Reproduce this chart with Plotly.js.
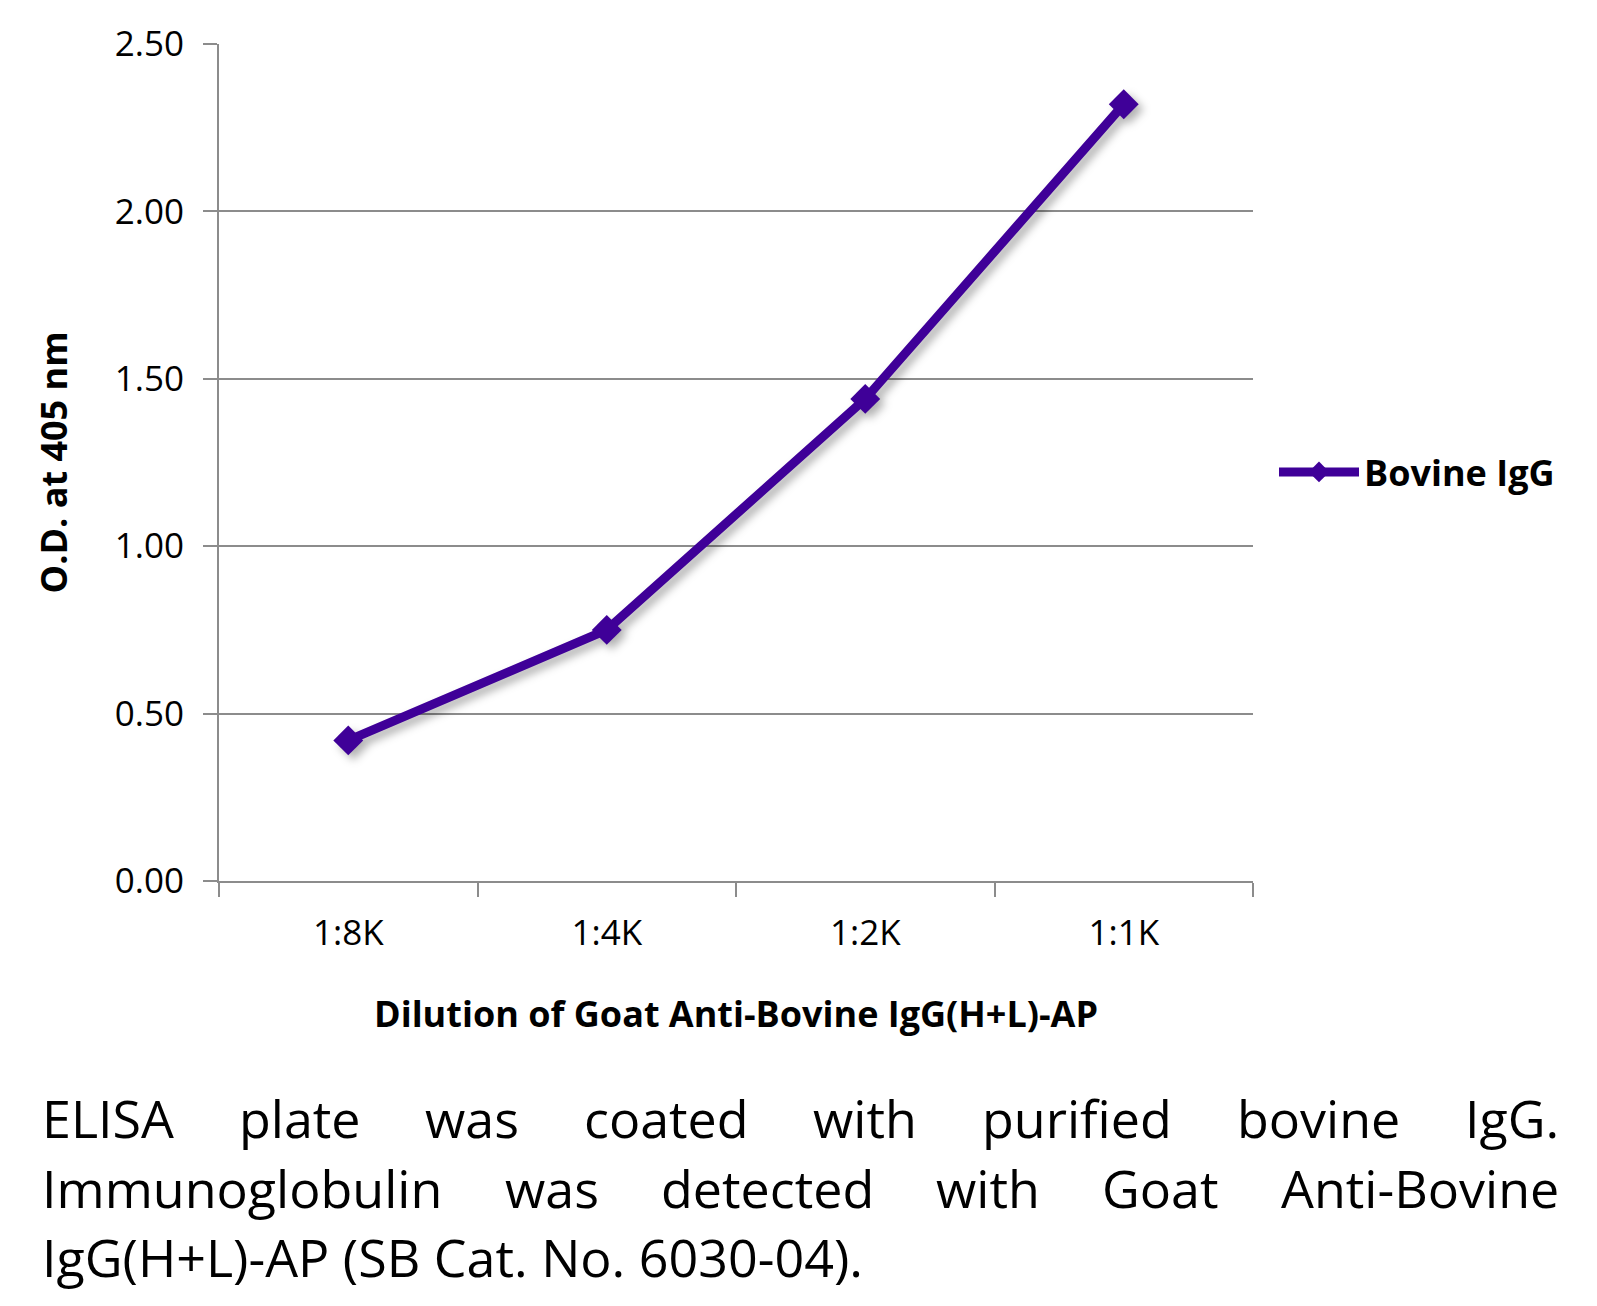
<!DOCTYPE html>
<html>
<head>
<meta charset="utf-8">
<script src="https://cdn.plot.ly/plotly-3.0.1.min.js"></script>
<style>
html,body{margin:0;padding:0;background:#fff;}
#chart{width:1597px;height:1306px;}
.scatterlayer .trace{filter:drop-shadow(5px 5px 4px rgba(0,0,0,0.3));}
</style>
</head>
<body>
<div id="chart"></div>
<script>
// ---- data ----
const dilutions = ['1:8K', '1:4K', '1:2K', '1:1K'];
const bovineIgG = [0.42, 0.75, 1.44, 2.32];
const seriesName = 'Bovine IgG';
const yTickVals = [0, 0.5, 1, 1.5, 2, 2.5];
const yTickText = ['0.00', '0.50', '1.00', '1.50', '2.00', '2.50'];
const xTitle = 'Dilution of Goat Anti-Bovine IgG(H+L)-AP';
const yTitle = 'O.D. at 405 nm';
const captionLines = [
  ['ELISA', 'plate', 'was', 'coated', 'with', 'purified', 'bovine', 'IgG.'],
  ['Immunoglobulin', 'was', 'detected', 'with', 'Goat', 'Anti-Bovine'],
  ['IgG(H+L)-AP (SB Cat. No. 6030-04).']
];
const justifyLine = [true, true, false];

// ---- layout geometry ----
const W = 1597, H = 1306;
const mL = 219, mR = W - 1253, mT = 44, mB = H - 881;
const plotW = W - mL - mR, plotH = H - mT - mB;
const px2x = p => (p - mL) / plotW;
const py2y = p => (H - mB - p) / plotH;

const FONT = '"Open Sans", "Noto Sans", sans-serif';
const purple = '#3f0098';
const gray = '#8c8c8c';

// caption as justified words
const capLeft = 41, capRight = 1558;
const capY = [1117, 1187, 1256];
const canvas = document.createElement('canvas');
const ctx = canvas.getContext('2d');
const capSize = 52;
ctx.font = capSize + 'px "Open Sans"';
const annotations = [];
captionLines.forEach((words, li) => {
  const widths = words.map(w => ctx.measureText(w).width);
  const total = widths.reduce((a, b) => a + b, 0);
  const gap = (justifyLine[li] && words.length > 1) ? (capRight - capLeft - total) / (words.length - 1) : ctx.measureText(' ').width;
  let x = capLeft;
  words.forEach((w, i) => {
    annotations.push({
      text: w, xref: 'paper', yref: 'paper',
      x: px2x(x), y: py2y(capY[li]), xanchor: 'left', yanchor: 'middle',
      showarrow: false, borderpad: 0,
      font: {family: FONT, size: capSize, color: '#000'}
    });
    x += widths[i] + gap;
  });
});

const trace = {
  x: dilutions, y: bovineIgG, name: seriesName,
  type: 'scatter', mode: 'lines+markers',
  line: {color: purple, width: 9},
  marker: {symbol: 'diamond', size: 23, color: purple}
};

const layout = {
  width: W, height: H,
  paper_bgcolor: '#fff', plot_bgcolor: '#fff',
  margin: {l: mL, r: mR, t: mT, b: mB, autoexpand: false},
  font: {family: FONT, color: '#000'},
  showlegend: true,
  legend: {
    x: px2x(1274), y: py2y(472), xanchor: 'left', yanchor: 'middle',
    font: {family: FONT, size: 36, color: '#000', weight: 'bold'},
    bgcolor: 'rgba(0,0,0,0)', itemwidth: 80
  },
  xaxis: {
    type: 'category', range: [-0.5, 3.5],
    showline: true, linecolor: gray, linewidth: 2,
    ticks: 'outside', tickson: 'boundaries', ticklen: 14, tickcolor: gray, tickwidth: 2,
    showgrid: false, zeroline: false,
    tickfont: {family: FONT, size: 35, color: '#000'},
    ticklabelstandoff: 20,
    title: {text: xTitle, standoff: 48, font: {family: FONT, size: 36, color: '#000', weight: 'bold'}},
    automargin: false, fixedrange: true
  },
  yaxis: {
    range: [0, 2.5], tickvals: yTickVals, ticktext: yTickText,
    showline: true, linecolor: gray, linewidth: 2,
    ticks: 'outside', ticklen: 14, tickcolor: gray, tickwidth: 2,
    showgrid: true, gridcolor: gray, gridwidth: 2, zeroline: false,
    tickfont: {family: FONT, size: 35, color: '#000'},
    ticklabelstandoff: 12,
    title: {text: yTitle, standoff: 36, font: {family: FONT, size: 36, color: '#000', weight: 'bold'}},
    automargin: false, fixedrange: true
  },
  annotations: annotations
};

Plotly.newPlot('chart', [trace], layout, {displayModeBar: false, staticPlot: true});
</script>
</body>
</html>
